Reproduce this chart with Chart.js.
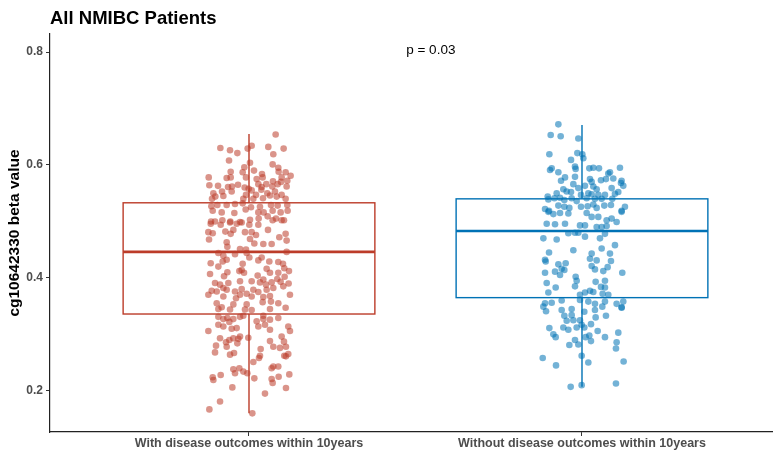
<!DOCTYPE html>
<html>
<head>
<meta charset="utf-8">
<script src="https://cdn.jsdelivr.net/npm/chart.js@4/dist/chart.umd.min.js"></script>
<style>
html,body{margin:0;padding:0;background:#fff;}
#wrap{width:773px;height:457px;position:relative;}
</style>
</head>
<body>
<div id="wrap"><canvas id="c" width="773" height="457"></canvas></div>
<script>
const titleText = 'All NMIBC Patients';
const yAxisTitle = 'cg10642330 beta value';
const pValueText = 'p = 0.03';
const categories = ['With disease outcomes within 10years', 'Without disease outcomes within 10years'];
const yTicks = [0.2, 0.4, 0.6, 0.8];
const boxQ1 = [0.336, 0.365];
const boxMedian = [0.446, 0.483];
const boxQ3 = [0.533, 0.540];
const whiskerLow = [0.160, 0.207];
const whiskerHigh = [0.655, 0.671];
const seriesColors = ['#BC3C29', '#0072B5'];

// [horizontal jitter (category units), beta value]
const redPoints = [
[0.080,0.654],[-0.086,0.630],[-0.057,0.626],[-0.035,0.621],[-0.004,0.629],[0.008,0.634],[0.058,0.632],[0.104,0.629],[0.073,0.619],
[-0.060,0.608],[0.003,0.604],[0.071,0.601],[0.088,0.595],[-0.014,0.596],[-0.055,0.588],[-0.019,0.587],[0.015,0.590],[0.039,0.584],
[0.089,0.588],[0.110,0.587],[0.125,0.581],[-0.121,0.578],[-0.067,0.577],[-0.055,0.578],[-0.009,0.578],[0.023,0.575],[0.041,0.578],
[0.072,0.571],[0.098,0.578],[0.096,0.570],[0.115,0.572],[-0.119,0.564],[-0.093,0.563],[-0.063,0.561],[-0.051,0.562],[-0.033,0.565],
[-0.013,0.560],[-0.001,0.558],[0.028,0.566],[0.038,0.561],[0.052,0.566],[0.070,0.562],[0.086,0.566],[0.113,0.562],[-0.107,0.550],
[-0.081,0.553],[-0.052,0.553],[-0.009,0.547],[0.008,0.555],[0.021,0.547],[0.037,0.556],[0.055,0.550],[0.078,0.553],[0.098,0.547],
[-0.111,0.540],[-0.101,0.544],[-0.077,0.545],[-0.017,0.540],[0.013,0.540],[0.042,0.541],[0.063,0.546],[0.083,0.544],[0.110,0.540],
[-0.113,0.527],[-0.095,0.529],[-0.067,0.529],[-0.042,0.531],[-0.019,0.532],[0.006,0.525],[0.033,0.526],[0.066,0.529],[0.086,0.528],
[0.115,0.529],[-0.109,0.519],[-0.082,0.516],[-0.044,0.515],[-0.010,0.521],[0.028,0.516],[0.044,0.516],[0.071,0.519],[0.095,0.516],
[0.116,0.519],[-0.114,0.500],[-0.080,0.502],[-0.056,0.500],[-0.027,0.499],[0.003,0.503],[0.029,0.505],[0.056,0.509],[0.081,0.505],
[0.105,0.502],
[-0.115,0.496],[-0.102,0.500],[-0.085,0.494],[-0.057,0.498],[-0.037,0.496],[-0.022,0.498],[0.001,0.494],[0.028,0.494],[0.071,0.502],
[0.098,0.502],[-0.122,0.481],[-0.109,0.479],[-0.071,0.482],[-0.055,0.478],[-0.047,0.485],[-0.012,0.481],[0.008,0.481],[0.021,0.476],
[0.057,0.485],[0.091,0.472],[0.110,0.478],[-0.120,0.468],[-0.067,0.463],[0.003,0.469],[0.016,0.461],[0.043,0.460],[0.068,0.460],
[0.113,0.466],[-0.065,0.455],[-0.027,0.451],[-0.009,0.450],[-0.092,0.444],[-0.077,0.439],[-0.042,0.442],[-0.007,0.444],[0.113,0.446],
[-0.067,0.432],[0.001,0.436],[0.028,0.431],[0.038,0.436],[0.061,0.429],[0.088,0.428],[-0.115,0.426],[-0.079,0.429],[-0.019,0.425],
[0.102,0.425],[-0.092,0.420],[-0.029,0.412],[-0.022,0.414],[-0.015,0.409],[0.053,0.416],[0.106,0.417],[0.120,0.412],[0.063,0.409],
[-0.117,0.407],[-0.065,0.410],[0.088,0.409],[-0.075,0.403],[0.026,0.404],[0.107,0.402],[-0.102,0.391],[-0.087,0.388],[-0.077,0.382],
[-0.062,0.391],[-0.027,0.394],[0.008,0.394],[0.033,0.392],[0.043,0.397],[0.051,0.388],[0.068,0.392],[0.085,0.398],[0.095,0.393],
[0.119,0.390],[-0.112,0.377],[-0.097,0.376],[-0.067,0.379],[-0.042,0.376],[-0.022,0.380],[-0.007,0.372],[0.013,0.379],[0.028,0.375],
[0.053,0.379],[0.073,0.382],[0.103,0.385],[-0.122,0.370],[-0.077,0.367],[-0.039,0.364],[-0.027,0.370],[0.008,0.367],[0.043,0.366],
[0.063,0.368],[0.123,0.370],[-0.097,0.355],[-0.082,0.348],[-0.047,0.353],[-0.007,0.353],[0.041,0.357],[0.066,0.358],[0.088,0.355],
[0.110,0.347],[-0.092,0.345],[-0.057,0.344],[-0.012,0.344],[0.008,0.343],[0.063,0.345],
[-0.092,0.331],[-0.077,0.327],[-0.065,0.329],[-0.047,0.327],[-0.027,0.331],[-0.017,0.333],[0.023,0.323],[0.043,0.327],[0.063,0.326],
[0.088,0.329],[0.043,0.333],[-0.122,0.306],[-0.092,0.317],[-0.077,0.314],[-0.059,0.322],[-0.052,0.310],[-0.037,0.311],[0.028,0.314],
[0.048,0.317],[0.063,0.308],[0.118,0.314],[0.123,0.306],[-0.087,0.293],[-0.069,0.286],[-0.059,0.290],[-0.047,0.293],[-0.032,0.292],
[-0.027,0.296],[-0.002,0.294],[0.063,0.288],[0.073,0.278],[0.098,0.296],[0.105,0.287],[0.111,0.278],[-0.099,0.280],[-0.067,0.278],
[-0.035,0.284],[0.035,0.274],[0.093,0.276],[-0.102,0.268],[-0.057,0.264],[-0.045,0.267],[0.030,0.258],[0.033,0.262],[0.106,0.262],
[0.118,0.265],[0.111,0.261],[0.013,0.251],[-0.047,0.238],[-0.042,0.231],[-0.029,0.240],[-0.017,0.234],[-0.005,0.231],[0.068,0.240],
[0.073,0.243],[0.088,0.243],[-0.109,0.224],[-0.107,0.219],[-0.085,0.228],[0.016,0.222],[0.068,0.221],[0.071,0.214],[0.089,0.225],
[0.121,0.229],[-0.050,0.206],[0.048,0.195],[0.111,0.205],[-0.087,0.181],[-0.119,0.167],[0.010,0.160]
];

const bluePoints = [
[-0.071,0.672],[-0.094,0.653],[-0.064,0.651],[-0.011,0.647],[-0.098,0.619],[-0.033,0.609],[-0.014,0.621],[0.001,0.619],[0.004,0.612],
[-0.091,0.594],[-0.096,0.591],[-0.071,0.587],[-0.021,0.597],[-0.019,0.593],[0.022,0.594],[0.034,0.595],[0.051,0.594],[0.079,0.585],
[0.084,0.587],[0.114,0.595],[-0.063,0.572],[-0.051,0.578],[-0.021,0.579],[0.024,0.575],[0.029,0.570],[0.057,0.573],[0.072,0.575],
[0.094,0.576],[0.119,0.572],[0.124,0.563],[-0.026,0.566],[-0.011,0.559],[0.009,0.563],[0.034,0.562],[0.044,0.557],[0.089,0.559],
[0.117,0.568],[-0.076,0.550],[-0.056,0.557],[-0.046,0.553],[-0.033,0.552],[-0.003,0.547],[0.019,0.550],[0.029,0.548],[0.049,0.547],
[0.069,0.547],[0.099,0.549],[0.109,0.552],[-0.103,0.544],[-0.101,0.539],[-0.083,0.541],[-0.066,0.542],[-0.053,0.538],[-0.031,0.541],
[-0.016,0.536],[0.014,0.541],[0.039,0.540],[0.059,0.540],[0.091,0.540],[-0.111,0.522],[-0.099,0.519],[-0.071,0.528],[-0.053,0.526],
[-0.038,0.524],[-0.003,0.526],[0.017,0.527],[0.034,0.530],[0.044,0.524],[0.067,0.528],[0.087,0.529],[0.119,0.519],[0.129,0.526],
[-0.101,0.517],[-0.086,0.513],[-0.066,0.515],[-0.041,0.514],[0.014,0.515],[0.029,0.508],[0.049,0.508],[0.089,0.505],[0.119,0.517],
[0.074,0.502],[0.104,0.499],[-0.106,0.496],[-0.081,0.495],[-0.051,0.496],[-0.006,0.493],[0.009,0.493],[0.044,0.490],[0.059,0.490],
[0.074,0.492],[-0.116,0.470],[-0.076,0.468],[-0.041,0.479],[-0.021,0.480],[-0.011,0.480],[0.009,0.473],[0.054,0.470],[0.069,0.478],
[0.099,0.458],[-0.026,0.449],[-0.099,0.445],[0.029,0.443],[0.059,0.452],[0.084,0.443],[-0.111,0.432],[-0.109,0.429],[-0.071,0.424],
[-0.049,0.426],[0.024,0.434],[0.044,0.431],[0.087,0.430],[-0.061,0.416],[-0.053,0.414],[-0.066,0.405],[-0.081,0.411],[0.029,0.421],
[0.039,0.415],[0.064,0.412],[0.077,0.419],[0.121,0.409],[-0.111,0.409],[-0.019,0.402],[-0.016,0.395],[0.041,0.393],[0.069,0.395],
[-0.021,0.385],[-0.106,0.391],[-0.079,0.383],[-0.101,0.374],[-0.006,0.370],[0.009,0.374],[0.024,0.377],[0.034,0.375],[0.057,0.384],
[0.062,0.372],[0.069,0.383],[0.079,0.370],[-0.111,0.355],[-0.091,0.356],[-0.061,0.360],[-0.006,0.361],[0.019,0.358],[0.039,0.354],
[0.069,0.358],[0.104,0.354],[0.124,0.358],[0.119,0.348],[-0.116,0.349],
[-0.108,0.341],[-0.061,0.343],[-0.031,0.345],[0.007,0.340],[0.039,0.343],[0.061,0.349],[0.119,0.347],[-0.053,0.333],[-0.031,0.334],
[-0.006,0.325],[0.041,0.330],[0.072,0.333],[-0.046,0.324],[-0.026,0.325],[-0.016,0.312],[-0.001,0.317],[0.007,0.312],[0.027,0.318],
[-0.098,0.311],[-0.056,0.312],[-0.041,0.308],[0.047,0.306],[0.109,0.303],[-0.086,0.300],[-0.079,0.295],[0.011,0.295],[0.022,0.298],
[0.027,0.288],[0.069,0.295],[-0.021,0.290],[-0.038,0.281],[-0.011,0.282],[0.104,0.286],[0.102,0.275],[-0.118,0.258],[-0.001,0.262],
[-0.078,0.245],[0.019,0.250],[0.125,0.252],[-0.034,0.207],[-0.001,0.210],[0.102,0.213]
];

const groupPoints = [redPoints, bluePoints];

function hexToRgba(hex, a) {
  const n = parseInt(hex.slice(1), 16);
  return 'rgba(' + ((n >> 16) & 255) + ',' + ((n >> 8) & 255) + ',' + (n & 255) + ',' + a + ')';
}

const datasets = groupPoints.map((pts, gi) => ({
  type: 'scatter',
  label: categories[gi],
  data: pts.map(p => ({ x: gi + 1 + p[0], y: p[1] })),
  backgroundColor: hexToRgba(seriesColors[gi], 0.55),
  borderWidth: 0,
  pointRadius: 3.3,
  pointHoverRadius: 3.3
}));

const BOX_HALF = 0.378;

const boxPlugin = {
  id: 'boxes',
  afterDatasetsDraw(chart) {
    const ctx = chart.ctx;
    const xs = chart.scales.x, ys = chart.scales.y;
    ctx.save();
    for (let i = 0; i < categories.length; i++) {
      const cx = xs.getPixelForValue(i + 1);
      const l = xs.getPixelForValue(i + 1 - BOX_HALF);
      const r = xs.getPixelForValue(i + 1 + BOX_HALF);
      const q1 = ys.getPixelForValue(boxQ1[i]);
      const q3 = ys.getPixelForValue(boxQ3[i]);
      const md = ys.getPixelForValue(boxMedian[i]);
      const lo = ys.getPixelForValue(whiskerLow[i]);
      const hi = ys.getPixelForValue(whiskerHigh[i]);
      ctx.strokeStyle = seriesColors[i];
      ctx.lineWidth = 1.4;
      ctx.beginPath();
      ctx.moveTo(cx, hi); ctx.lineTo(cx, q3);
      ctx.moveTo(cx, q1); ctx.lineTo(cx, lo);
      ctx.stroke();
      ctx.strokeRect(l, q3, r - l, q1 - q3);
      ctx.lineWidth = 2.6;
      ctx.beginPath();
      ctx.moveTo(l, md); ctx.lineTo(r, md);
      ctx.stroke();
    }
    ctx.restore();
  },
  afterDraw(chart) {
    const ctx = chart.ctx;
    const xs = chart.scales.x, ys = chart.scales.y;
    ctx.save();
    ctx.fillStyle = '#000';
    ctx.font = 'bold 18.5px "Liberation Sans", Arial, sans-serif';
    ctx.textAlign = 'left';
    ctx.textBaseline = 'alphabetic';
    ctx.fillText(titleText, chart.chartArea.left, 23.5);
    ctx.font = '13.5px "Liberation Sans", Arial, sans-serif';
    ctx.textAlign = 'center';
    ctx.fillText(pValueText, xs.getPixelForValue(1.546), ys.getPixelForValue(0.797));
    ctx.font = 'bold 15.5px "Liberation Sans", Arial, sans-serif';
    ctx.translate(15, (chart.chartArea.top + chart.chartArea.bottom) / 2);
    ctx.rotate(-Math.PI / 2);
    ctx.textBaseline = 'middle';
    ctx.fillText(yAxisTitle, 0, 0);
    ctx.restore();
  }
};

const bgPlugin = {
  id: 'bg',
  beforeDraw(chart) {
    const ctx = chart.ctx;
    ctx.save();
    ctx.fillStyle = '#fff';
    ctx.fillRect(0, 0, chart.width, chart.height);
    ctx.restore();
  }
};

new Chart(document.getElementById('c'), {
  type: 'scatter',
  data: { datasets },
  plugins: [bgPlugin, boxPlugin],
  options: {
    responsive: false,
    animation: false,
    events: [],
    layout: { autoPadding: false, padding: { top: 34, right: 0, bottom: 0, left: 0 } },
    plugins: { legend: { display: false }, tooltip: { enabled: false }, title: { display: false } },
    scales: {
      x: {
        type: 'linear',
        min: 0.4024,
        max: 2.5736,
        afterBuildTicks(axis) { axis.ticks = categories.map((c, i) => ({ value: i + 1 })); },
        afterFit(axis) { axis.height = 25; },
        ticks: {
          padding: 0,
          color: '#4D4D4D',
          font: { family: '"Liberation Sans", Arial, sans-serif', size: 12.5, weight: 'bold' },
          callback(v) { return categories[Math.round(v) - 1] || ''; },
          maxRotation: 0, autoSkip: false
        },
        grid: { display: true, drawOnChartArea: false, drawTicks: true, tickLength: 4, tickColor: '#333', tickWidth: 1 },
        border: { display: true, color: '#222', width: 1.2 }
      },
      y: {
        type: 'linear',
        min: 0.127,
        max: 0.832,
        afterBuildTicks(axis) { axis.ticks = yTicks.map(v => ({ value: v })); },
        afterFit(axis) { axis.width = 50; },
        ticks: {
          padding: 3,
          color: '#4D4D4D',
          font: { family: '"Liberation Sans", Arial, sans-serif', size: 12, weight: 'bold' },
          callback(v) { return Number(v).toFixed(1); }
        },
        grid: { display: true, drawOnChartArea: false, drawTicks: true, tickLength: 4, tickColor: '#333', tickWidth: 1 },
        border: { display: true, color: '#222', width: 1.2 }
      }
    }
  }
});
</script>
</body>
</html>
